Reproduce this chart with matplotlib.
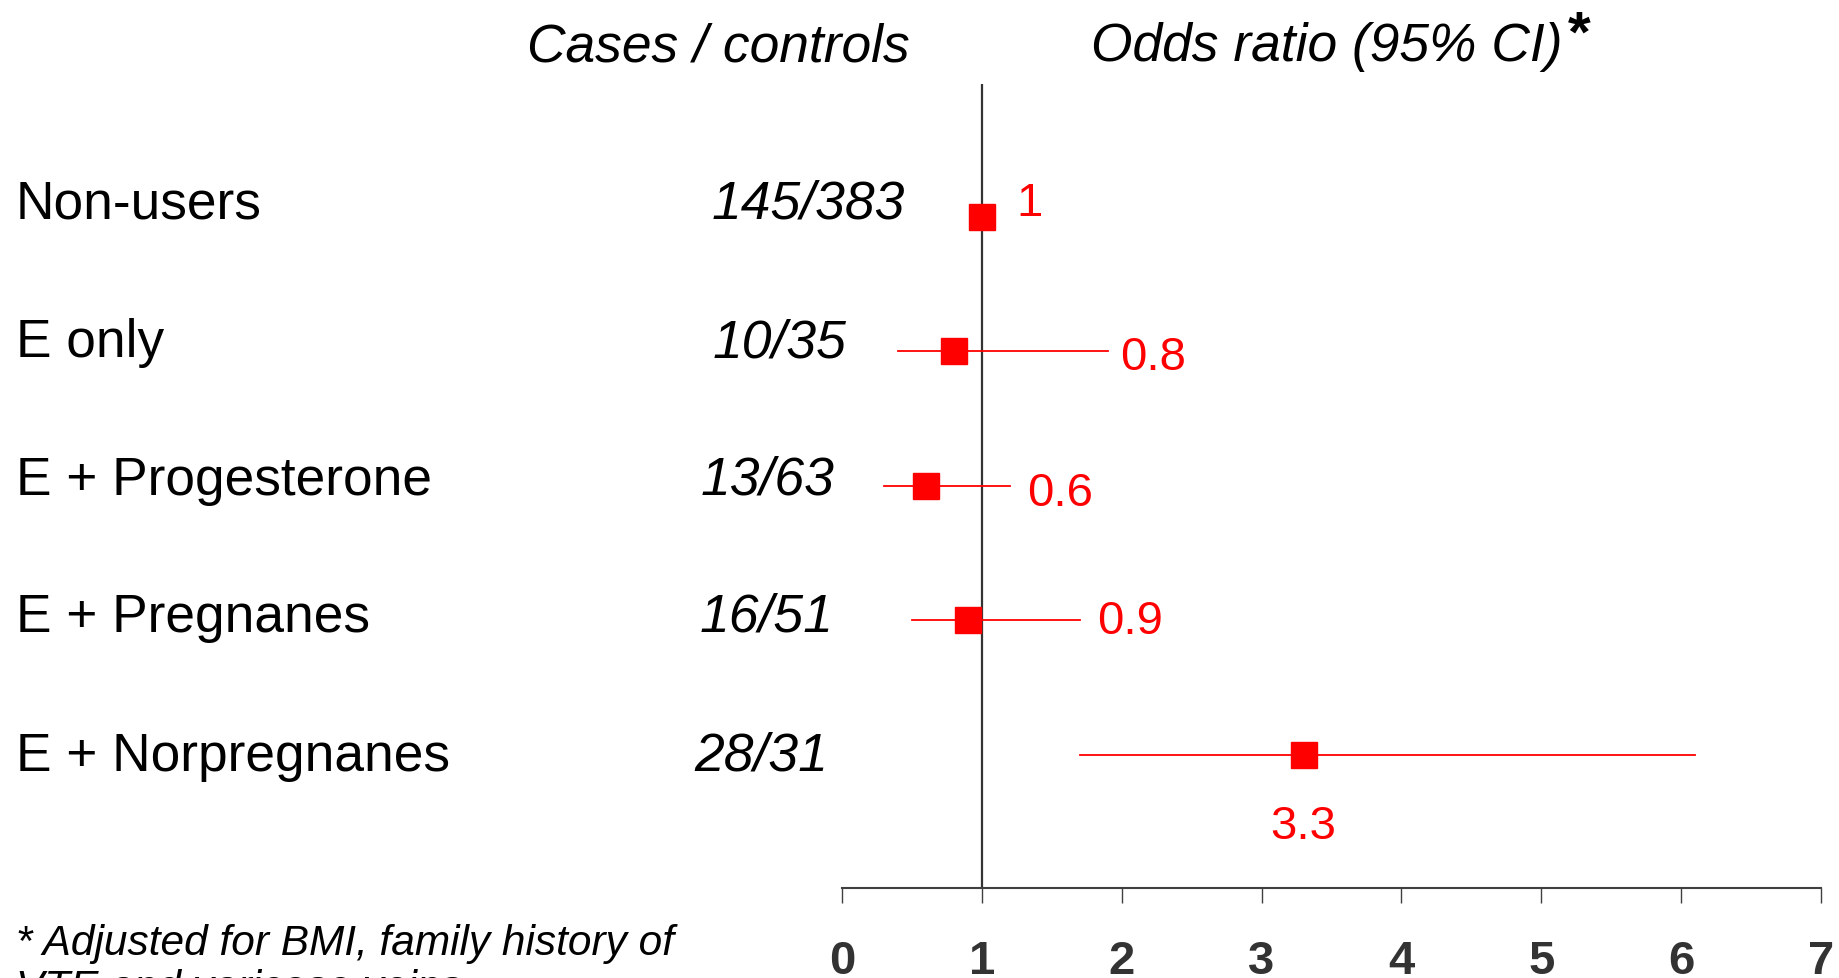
import matplotlib as mpl
import matplotlib.pyplot as plt

mpl.use("Agg")
mpl.rcParams.update({"font.family": ["Liberation Sans", "DejaVu Sans"]})

# data
groups = ["Non-users", "E only", "E + Progesterone", "E + Pregnanes", "E + Norpregnanes"]
counts = ["145/383", "10/35", "13/63", "16/51", "28/31"]
odds_ratio = [1.0, 0.8, 0.6, 0.9, 3.3]
ci_low = [None, 0.4, 0.3, 0.5, 1.7]
ci_high = [None, 1.9, 1.2, 1.7, 6.1]
or_labels = ["1", "0.8", "0.6", "0.9", "3.3"]
x_ticks = [0, 1, 2, 3, 4, 5, 6, 7]

W, H = 1839, 979
RED = "#ff0000"


def px(x, y):
    """pixel position (from top left) -> figure fraction"""
    return x / W, 1 - y / H


fig = plt.figure(figsize=(W / 100, H / 100), dpi=100)
ax = fig.add_axes([842 / W, 1 - 889 / H, (1821 - 842) / W, (889 - 85) / H])
ax.set_xlim(0, 7)
ax.set_ylim(4.993, -0.99)

ax.axvline(1, color="#333333", lw=1.6, zorder=1)

rows = list(range(len(groups)))
for i in rows:
    if ci_low[i] is not None:
        ax.plot([ci_low[i], ci_high[i]], [i, i], color=RED, lw=1.3, zorder=2)
ax.plot(odds_ratio, rows, ls="none", marker="s", ms=19, color=RED, mec=RED, zorder=3)

# OR value labels: anchor, offset in pixels, alignment
anchors = [odds_ratio[0], ci_high[1], ci_high[2], ci_high[3], odds_ratio[4]]
offsets = [(35, 2), (12, -18), (17, -19), (17, -13), (0, -83)]
aligns = ["left", "left", "left", "left", "center"]
for i in rows:
    ax.annotate(or_labels[i], (anchors[i], i), xytext=offsets[i], textcoords="offset pixels",
                ha=aligns[i], va="baseline", color=RED, fontsize=34)

for side in ["left", "top", "right"]:
    ax.spines[side].set_visible(False)
ax.spines["bottom"].set_color("#404040")
ax.spines["bottom"].set_linewidth(1.5)
ax.set_yticks([])
ax.set_xticks(x_ticks)
ax.tick_params(axis="x", direction="out", length=11, width=1, color="#404040",
               pad=26, labelsize=34, labelcolor="#333333")
for lab in ax.get_xticklabels():
    lab.set_fontweight("bold")

# left-hand table
label_base = [219, 357, 495, 632, 771]
count_x = [712, 713, 701, 700, 694]
for i in rows:
    fig.text(*px(16, label_base[i]), groups[i], fontsize=38.3, va="baseline", ha="left")
    fig.text(*px(count_x[i], label_base[i]), counts[i], fontsize=38.5, style="italic",
             va="baseline", ha="left")

# headers
fig.text(*px(718, 62), "Cases / controls", fontsize=38.4, style="italic", ha="center", va="baseline")
fig.text(*px(1091, 61), "Odds ratio (95% CI)", fontsize=38.4, style="italic", ha="left", va="baseline")
fig.text(*px(1579, 52), "*", fontsize=42, fontweight="bold", ha="center", va="baseline")

# footnote (second line is cut by the figure edge)
fig.text(*px(16, 955), "* Adjusted for BMI, family history of", fontsize=30.5, style="italic",
         ha="left", va="baseline")
fig.text(*px(16, 1000), "VTE and varicose veins", fontsize=30.5, style="italic",
         ha="left", va="baseline")

fig.savefig("out.png", dpi=100)
